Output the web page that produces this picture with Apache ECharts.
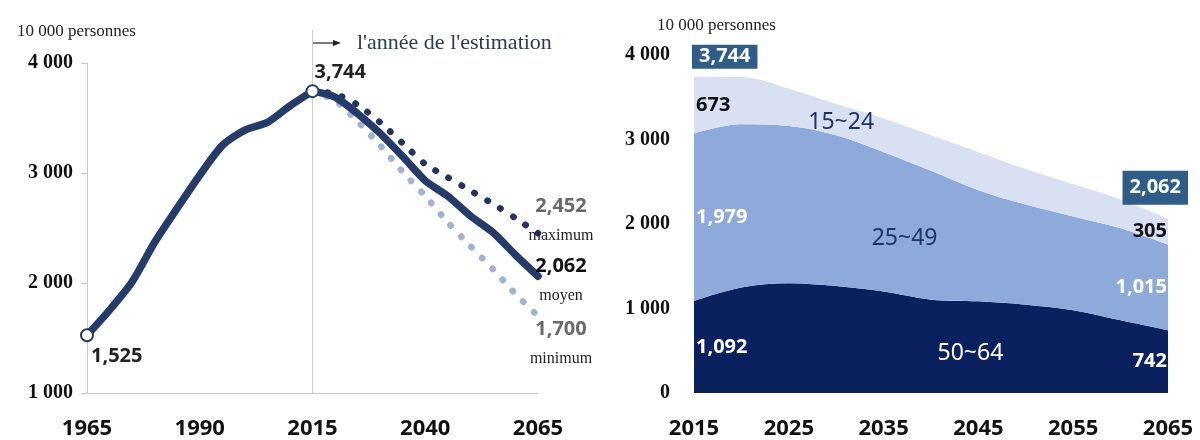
<!DOCTYPE html>
<html>
<head>
<meta charset="utf-8">
<script src="https://cdn.jsdelivr.net/npm/echarts@6/dist/echarts.min.js"></script>
<style>
    html, body { margin: 0; padding: 0; background: #fff; }
    #chart { width: 1200px; height: 440px; }
</style>
</head>
<body>
<div id="chart"></div>
<script>
// 左图: 生产年龄人口 (1965 ~ 2065)
const yearsLeft = ['1965', '1970', '1975', '1980', '1985', '1990', '1995', '2000', '2005', '2010',
                   '2015', '2020', '2025', '2030', '2035', '2040', '2045', '2050', '2055', '2060', '2065']
const histYears = ['1965', '1970', '1975', '1980', '1985', '1990', '1995', '2000', '2005', '2010', '2015']
const histValues = [1525, 1754, 2010, 2370, 2680, 2980, 3250, 3390, 3460, 3610, 3744]
const projYears = ['2015', '2020', '2025', '2030', '2035', '2040', '2045', '2050', '2055', '2060', '2065']
const projMax = [3744, 3720, 3620, 3460, 3270, 3080, 2960, 2840, 2720, 2590, 2452]
const projMid = [3744, 3690, 3540, 3360, 3150, 2930, 2790, 2610, 2460, 2255, 2062]
const projMin = [3744, 3660, 3470, 3250, 3010, 2790, 2550, 2335, 2127, 1900, 1700]
const estimationYear = '2015'

// 右图: 年龄段构成 (2015 ~ 2065)
const age50to64 = [1092, 1250, 1300, 1265, 1200, 1105, 1085, 1045, 980, 860, 742]
const age25to49 = [1979, 1930, 1860, 1785, 1650, 1525, 1315, 1185, 1110, 1090, 1015]
const age15to24 = [673, 560, 440, 370, 400, 420, 450, 420, 380, 340, 305]
const bandNames = ['50~64', '25~49', '15~24']

const SERIF = '"Liberation Serif", "DejaVu Serif", serif'
const SANS = '"Noto Sans", "DejaVu Sans", sans-serif'

// 数字格式
const comma = v => String(v).replace(/\B(?=(\d{3})+(?!\d))/g, ',')
const spaced = v => String(v).replace(/\B(?=(\d{3})+(?!\d))/g, ' ')

const pairs = (xs, ys) => xs.map((x, i) => [x, ys[i]])
const last = projYears.length - 1
const totals = projYears.map((_, i) => age50to64[i] + age25to49[i] + age15to24[i])

// 堆叠区域中间的数值标签
const bands = [age50to64, age25to49, age15to24]
const bandLabelData = []
;[0, last].forEach(i => {
    let base = 0
    bands.forEach((b, k) => {
        bandLabelData.push({
            value: [projYears[i], base + b[i] / 2],
            label: {
                formatter: comma(b[i]),
                align: i === 0 ? 'left' : 'right',
                offset: i === 0 ? [2, 0] : [-1, 0],
                color: k === 2 ? '#111' : '#fff'
            }
        })
        base += b[i]
    })
})

const endRich = (color) => ({
    v: { fontFamily: SANS, fontSize: 20, fontWeight: 'bold', color: color, lineHeight: 30 },
    n: { fontFamily: SERIF, fontSize: 16, color: '#222', lineHeight: 30 }
})

const mycharts = echarts.init(document.getElementById('chart'))
mycharts.setOption({
    animation: false,
    title: [
        { text: '10 000 personnes', left: 12, top: 18, textStyle: { fontFamily: SERIF, fontSize: 17, fontWeight: 'normal', color: '#222' } },
        { text: '10 000 personnes', left: 652, top: 12, textStyle: { fontFamily: SERIF, fontSize: 17, fontWeight: 'normal', color: '#222' } }
    ],
    grid: [
        { left: 87, right: 662, top: 63, bottom: 46 },
        { left: 694, right: 32, top: 55, bottom: 47 }
    ],
    xAxis: [
        {
            type: 'category', gridIndex: 0, data: yearsLeft, boundaryGap: false,
            axisLine: { lineStyle: { color: '#c8c8c8', width: 1 } },
            axisTick: { show: false },
            axisLabel: { interval: 4, margin: 25, fontFamily: SANS, fontSize: 22, fontWeight: 'bold', color: '#111' }
        },
        {
            type: 'category', gridIndex: 1, data: projYears, boundaryGap: false,
            axisLine: { show: false },
            axisTick: { show: false },
            axisLabel: { interval: 1, margin: 25, fontFamily: SANS, fontSize: 22, fontWeight: 'bold', color: '#111' }
        }
    ],
    yAxis: [
        {
            type: 'value', gridIndex: 0, min: 1000, max: 4000, interval: 1000,
            axisLine: { show: true, lineStyle: { color: '#c8c8c8' } },
            axisTick: { show: true, length: 6, lineStyle: { color: '#c8c8c8' } },
            splitLine: { show: false },
            axisLabel: { margin: 14, formatter: spaced, fontFamily: SERIF, fontSize: 20, fontWeight: 'bold', color: '#111' }
        },
        {
            type: 'value', gridIndex: 1, min: 0, max: 4000, interval: 1000,
            axisLine: { show: false },
            axisTick: { show: false },
            splitLine: { show: false },
            axisLabel: { margin: 24, formatter: spaced, fontFamily: SERIF, fontSize: 20, fontWeight: 'bold', color: '#111' }
        }
    ],
    graphic: [
        // 推计起点的箭头说明
        { type: 'line', shape: { x1: 313, y1: 43, x2: 335, y2: 43 }, style: { stroke: '#222', lineWidth: 1.2 } },
        { type: 'polygon', shape: { points: [[341, 43], [333, 40], [333, 46]] }, style: { fill: '#222' } },
        {
            type: 'text', x: 357, y: 43,
            style: { text: "l'année de l'estimation", font: '22px ' + SERIF, fill: '#2b3a5c', verticalAlign: 'middle' }
        }
    ],
    series: [
        {
            // 推计起点竖线
            name: 'estimation', type: 'line', xAxisIndex: 0, yAxisIndex: 0, z: 1,
            data: [[estimationYear, 1000], [estimationYear, 4300]], symbol: 'none', clip: false, silent: true,
            lineStyle: { color: '#d0d0d0', width: 1 }
        },
        {
            name: 'minimum', type: 'line', xAxisIndex: 0, yAxisIndex: 0,
            data: pairs(projYears, projMin), symbol: 'none', smooth: 0.2,
            lineStyle: { color: '#9fb1d4', width: 6.5, type: [0.5, 14.5], cap: 'round' },
            endLabel: {
                show: true, distance: 0, align: 'center', offset: [23, 28],
                formatter: '{v|' + comma(projMin[last]) + '}\n{n|minimum}', rich: endRich('#6a6a6a')
            }
        },
        {
            name: 'maximum', type: 'line', xAxisIndex: 0, yAxisIndex: 0,
            data: pairs(projYears, projMax), symbol: 'none', smooth: 0.2,
            lineStyle: { color: '#1f3462', width: 6.5, type: [0.5, 14.5], cap: 'round' },
            endLabel: {
                show: true, distance: 0, align: 'center', offset: [23, -12],
                formatter: '{v|' + comma(projMax[last]) + '}\n{n|maximum}', rich: endRich('#6a6a6a')
            }
        },
        {
            name: 'moyen', type: 'line', xAxisIndex: 0, yAxisIndex: 0,
            data: pairs(projYears, projMid), symbol: 'none', smooth: 0.25,
            lineStyle: { color: '#243b6c', width: 7.5, cap: 'round', join: 'round' },
            endLabel: {
                show: true, distance: 0, align: 'center', offset: [23, 5],
                formatter: '{v|' + comma(projMid[last]) + '}\n{n|moyen}', rich: endRich('#111')
            }
        },
        {
            name: 'historique', type: 'line', xAxisIndex: 0, yAxisIndex: 0,
            data: pairs(histYears, histValues), symbol: 'none', smooth: 0.25,
            lineStyle: { color: '#243b6c', width: 7.5, cap: 'round', join: 'round' }
        },
        {
            name: 'points', type: 'scatter', xAxisIndex: 0, yAxisIndex: 0, z: 5,
            symbol: 'circle', symbolSize: 12,
            itemStyle: { color: '#fff', borderColor: '#243b6c', borderWidth: 2, opacity: 1 },
            label: {
                show: true, position: 'inside', align: 'left',
                formatter: p => comma(p.value[1]),
                fontFamily: SANS, fontSize: 20, fontWeight: 'bold', color: '#222'
            },
            data: [
                { value: [histYears[0], histValues[0]], label: { offset: [4, 21] } },
                { value: [histYears[histYears.length - 1], histValues[histValues.length - 1]], label: { offset: [2, -19] } }
            ]
        },
        // 右图堆叠区域
        {
            name: bandNames[0], type: 'line', xAxisIndex: 1, yAxisIndex: 1, stack: 'pop',
            data: age50to64, symbol: 'none', smooth: 0.35,
            lineStyle: { width: 0 }, areaStyle: { color: '#0b215f', opacity: 1 },
            markPoint: {
                symbol: 'circle', symbolSize: 0, silent: true,
                label: { show: true, formatter: bandNames[0], fontFamily: SANS, fontSize: 23, color: '#fff' },
                data: [{ coord: ['2045', 473], label: { offset: [-8, 0] } }]
            }
        },
        {
            name: bandNames[1], type: 'line', xAxisIndex: 1, yAxisIndex: 1, stack: 'pop',
            data: age25to49, symbol: 'none', smooth: 0.35,
            lineStyle: { width: 0 }, areaStyle: { color: '#8eaadb', opacity: 1 },
            markPoint: {
                symbol: 'circle', symbolSize: 0, silent: true,
                label: { show: true, formatter: bandNames[1], fontFamily: SANS, fontSize: 23, color: '#1f3461' },
                data: [{ coord: ['2035', 1834], label: { offset: [21, 0] } }]
            }
        },
        {
            name: bandNames[2], type: 'line', xAxisIndex: 1, yAxisIndex: 1, stack: 'pop',
            data: age15to24, symbol: 'none', smooth: 0.35,
            lineStyle: { width: 0 }, areaStyle: { color: '#d8e0f1', opacity: 1 },
            markPoint: {
                symbol: 'circle', symbolSize: 0, silent: true,
                label: { show: true, formatter: bandNames[2], fontFamily: SANS, fontSize: 23, color: '#1f3461' },
                data: [{ coord: ['2030', 3207], label: { offset: [5, 0] } }]
            }
        },
        {
            name: 'bandLabels', type: 'scatter', xAxisIndex: 1, yAxisIndex: 1, z: 5,
            symbolSize: 0, silent: true, itemStyle: { opacity: 1 },
            label: { show: true, position: 'inside', fontFamily: SANS, fontSize: 20, fontWeight: 'bold' },
            data: bandLabelData
        },
        {
            name: 'totals', type: 'scatter', xAxisIndex: 1, yAxisIndex: 1, z: 5,
            symbolSize: 0, silent: true, itemStyle: { opacity: 1 },
            label: {
                show: true, position: 'inside', verticalAlign: 'bottom',
                formatter: p => comma(p.value[1]),
                fontFamily: SANS, fontSize: 20, fontWeight: 'bold', color: '#fff',
                backgroundColor: '#2f5d8a'
            },
            data: [
                { value: [projYears[0], totals[0]], label: { align: 'left', offset: [-2, -8], padding: [2, 7] } },
                { value: [projYears[last], totals[last]], label: { align: 'right', offset: [20, -14], padding: [7, 7] } }
            ]
        }
    ]
})
</script>
</body>
</html>
